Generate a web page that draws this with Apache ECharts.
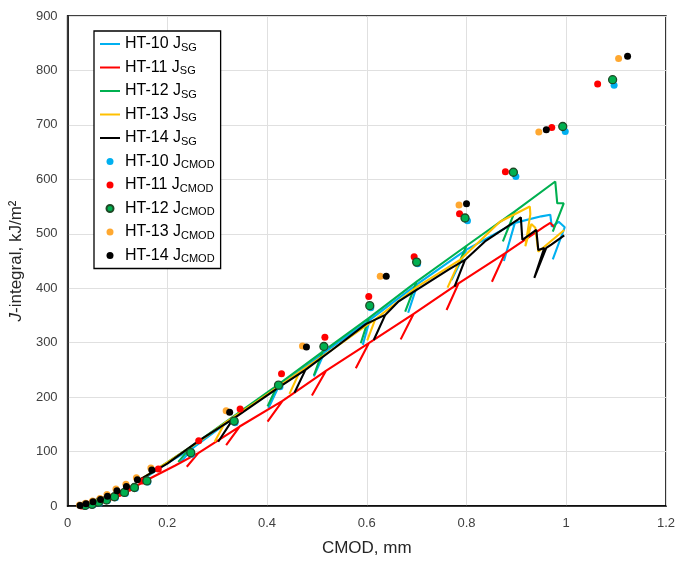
<!DOCTYPE html>
<html>
<head>
<meta charset="utf-8">
<script src="https://cdn.jsdelivr.net/npm/echarts@6/dist/echarts.min.js"></script>
<style>
html,body{margin:0;padding:0;background:#fff;}
#chart{width:678px;height:565px;}
</style>
</head>
<body>
<div id="chart"></div>
<script>
// ---- Data (CMOD mm, J kJ/m^2) ----
const xTicks = [0, 0.2, 0.4, 0.6, 0.8, 1, 1.2];
const yTicks = [0, 100, 200, 300, 400, 500, 600, 700, 800, 900];

const seriesNames = ['HT-10', 'HT-11', 'HT-12', 'HT-13', 'HT-14'];

// J_SG curves (with unload/reload excursions)
const HT10_SG = [[0.14,44],[0.158,53],[0.20,79],[0.252,107],[0.226,80],[0.252,107],[0.33,160],[0.423,219],[0.403,180],[0.423,219],[0.515,282],[0.494,238],[0.515,282],[0.606,342],[0.592,296],[0.606,342],[0.702,408],[0.683,355],[0.702,408],[0.800,471],[0.770,415],[0.800,471],[0.897,520],[0.875,450],[0.897,520],[0.95,532],[0.968,535],[0.971,513],[0.985,522],[0.997,512],[0.973,453]];
const HT11_SG = [[0.13,33],[0.166,51],[0.215,74],[0.262,97],[0.239,72],[0.262,97],[0.345,146],[0.318,112],[0.345,146],[0.431,193],[0.401,155],[0.431,193],[0.518,248],[0.490,203],[0.518,248],[0.604,299],[0.578,253],[0.604,299],[0.694,353],[0.668,306],[0.694,353],[0.784,409],[0.760,360],[0.784,409],[0.877,464],[0.851,412],[0.877,464],[0.956,513],[0.968,520],[0.976,512]];
const HT12_SG = [[0.14,45],[0.156,54],[0.20,80],[0.249,110],[0.222,81],[0.249,110],[0.33,163],[0.421,222],[0.401,183],[0.421,222],[0.511,283],[0.494,240],[0.511,283],[0.604,345],[0.588,299],[0.604,345],[0.700,412],[0.677,357],[0.700,412],[0.800,478],[0.782,440],[0.800,478],[0.897,541],[0.873,486],[0.897,541],[0.978,596],[0.982,556],[0.995,556],[0.973,504]];
const HT13_SG = [[0.14,45],[0.20,80],[0.265,119],[0.315,152],[0.295,118],[0.315,152],[0.38,192],[0.465,246],[0.445,206],[0.465,246],[0.54,293],[0.617,343],[0.601,304],[0.617,343],[0.70,402],[0.787,452],[0.762,401],[0.787,452],[0.867,522],[0.927,550],[0.928,536],[0.918,477],[0.930,518],[0.938,511],[0.944,467],[0.996,507]];
const HT14_SG = [[0.14,46],[0.20,78],[0.265,121],[0.332,160],[0.302,118],[0.332,160],[0.425,219],[0.477,250],[0.455,208],[0.477,250],[0.531,287],[0.598,334],[0.637,351],[0.614,305],[0.637,351],[0.664,376],[0.700,397],[0.764,434],[0.797,452],[0.776,403],[0.797,452],[0.837,486],[0.903,526],[0.909,530],[0.912,489],[0.940,507],[0.944,470],[0.956,474],[0.936,419],[0.960,474],[0.970,480],[0.996,497]];

// J_CMOD points
const HT10_CMOD = [[0.037,0],[0.051,2],[0.064,5],[0.080,10],[0.096,15],[0.116,23],[0.136,32],[0.161,44],[0.249,95],[0.336,153],[0.426,219],[0.517,290],[0.608,364],[0.702,445],[0.802,524],[0.899,605],[0.998,688],[1.096,773]];
const HT11_CMOD = [[0.028,0],[0.040,3],[0.055,6],[0.070,11],[0.085,16],[0.103,23],[0.122,32],[0.150,46],[0.182,68],[0.263,120],[0.346,178],[0.429,243],[0.516,310],[0.604,385],[0.695,458],[0.786,537],[0.878,614],[0.971,695],[1.063,775]];
const HT12_CMOD = [[0.035,1],[0.049,3],[0.062,7],[0.078,11],[0.094,17],[0.114,25],[0.134,34],[0.159,46],[0.247,98],[0.334,156],[0.423,222],[0.514,293],[0.606,368],[0.700,448],[0.797,529],[0.894,613],[0.993,697],[1.093,783]];
const HT13_CMOD = [[0.024,2],[0.036,5],[0.050,9],[0.065,14],[0.079,21],[0.097,31],[0.117,40],[0.138,52],[0.167,70],[0.318,175],[0.471,294],[0.627,422],[0.785,553],[0.945,687],[1.105,822]];
const HT14_CMOD = [[0.025,1],[0.037,4],[0.051,8],[0.066,12],[0.080,18],[0.099,28],[0.118,36],[0.140,48],[0.169,66],[0.325,172],[0.479,292],[0.639,422],[0.800,555],[0.960,691],[1.123,826]];

const sgData = [HT10_SG, HT11_SG, HT12_SG, HT13_SG, HT14_SG];
const cmodData = [HT10_CMOD, HT11_CMOD, HT12_CMOD, HT13_CMOD, HT14_CMOD];
const lineColors = ['#00b0f0', '#ff0000', '#00b050', '#ffc000', '#000000'];
const dotColors = ['#00b0f0', '#ff0000', '#00b050', '#ffa830', '#000000'];

const FONT = '"Liberation Sans", Arial, sans-serif';

const series = [];
const legendData = [];
const subMap = {};
seriesNames.forEach((n, i) => {
  const name = n + ' J_SG';
  subMap[name] = n + ' J{sub|SG}';
  legendData.push({ name, itemStyle: { opacity: 0 } });
  series.push({
    name, type: 'line', data: sgData[i], symbol: 'none', smooth: false,
    lineStyle: { color: lineColors[i], width: 2.1 }, itemStyle: { color: lineColors[i] },
    z: 2
  });
});
seriesNames.forEach((n, i) => {
  const name = n + ' J_CMOD';
  subMap[name] = n + ' J{sub|CMOD}';
  legendData.push({ name });
  const green = i === 2;
  series.push({
    name, type: 'scatter', data: cmodData[i], symbol: 'circle', symbolSize: green ? 8 : 7,
    itemStyle: { color: dotColors[i], borderColor: green ? '#1d4a26' : dotColors[i], borderWidth: green ? 1.3 : 0, opacity: 1 },
    z: 3
  });
});

const chart = echarts.init(document.getElementById('chart'), null, { renderer: 'canvas' });
chart.setOption({
  animation: false,
  backgroundColor: '#ffffff',
  grid: { left: 66, right: 10, top: 16, bottom: 59, show: true, borderColor: '#000', borderWidth: 1.5, backgroundColor: 'transparent' },
  legend: {
    data: legendData, orient: 'vertical', left: 94, top: 31,
    padding: [3, 6, 3, 5], itemGap: 3.5, itemWidth: 20, itemHeight: 7,
    borderColor: '#000', borderWidth: 1.3, backgroundColor: '#fff',
    formatter: name => subMap[name],
    textStyle: { fontFamily: FONT, fontSize: 16, color: '#000', lineHeight: 20,
      rich: { sub: { fontFamily: FONT, fontSize: 11, color: '#000', padding: [7, 0, 0, 0] } } }
  },
  xAxis: {
    type: 'value', min: 0, max: 1.2, interval: 0.2,
    name: 'CMOD, mm', nameLocation: 'middle', nameGap: 34,
    nameTextStyle: { fontFamily: FONT, fontSize: 17, color: '#262626' },
    axisLine: { show: true, lineStyle: { color: '#000', width: 1.5 } },
    axisTick: { show: false },
    axisLabel: { fontFamily: FONT, fontSize: 13, color: '#404040', margin: 11,
      formatter: v => String(parseFloat(v.toFixed(1))) },
    splitLine: { show: true, lineStyle: { color: '#e0e0e0', width: 1 } }
  },
  yAxis: {
    type: 'value', min: 0, max: 900, interval: 100,
    name: '{i|J}-integral, kJ/m²', nameLocation: 'middle', nameGap: 35,
    nameTextStyle: { fontFamily: FONT, fontSize: 17, color: '#262626',
      rich: { i: { fontFamily: FONT, fontSize: 17, fontStyle: 'italic', color: '#262626' } } },
    axisLine: { show: true, lineStyle: { color: '#000', width: 1.5 } },
    axisTick: { show: false },
    axisLabel: { fontFamily: FONT, fontSize: 13, color: '#404040', margin: 10 },
    splitLine: { show: true, lineStyle: { color: '#e0e0e0', width: 1 } }
  },
  series
});
</script>
</body>
</html>
